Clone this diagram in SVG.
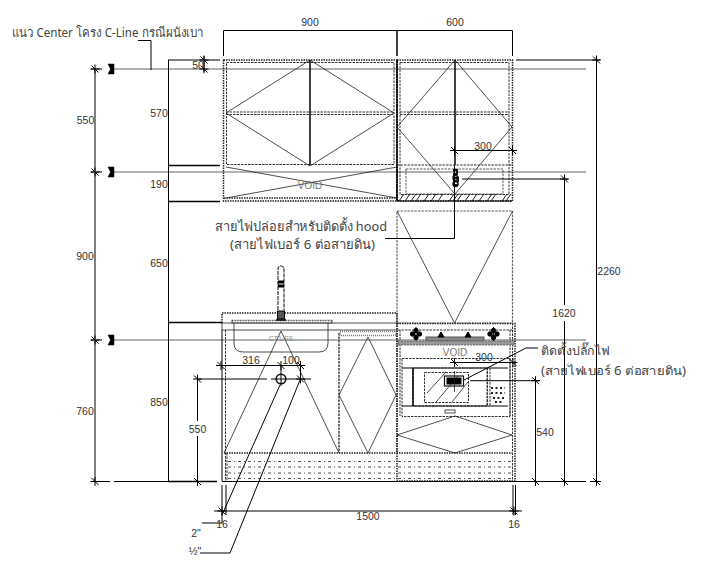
<svg xmlns="http://www.w3.org/2000/svg" width="713" height="564" viewBox="0 0 713 564">
<style>
text{font-family:"Liberation Sans",Arial,sans-serif;font-size:10.5px;fill:#333;text-anchor:middle}
.th{font-family:"Noto Sans","Liberation Sans",sans-serif;font-size:13px;text-anchor:start;fill:#444}
.void{fill:#777;font-size:10px}
line,path,rect,circle{fill:none;stroke:#111;stroke-width:1}
.dim{stroke:#000;stroke-width:1}
.thick{stroke:#000;stroke-width:1.500}
.cl{stroke:#666;stroke-width:1.100}
.d{stroke:#333;stroke-dasharray:2.500 1;stroke-width:1}
.d2{stroke:#222;stroke-dasharray:1.500 1;stroke-width:1.500}
.dot{stroke:#555;stroke-dasharray:3 3 1 3;stroke-width:1}
.thin{stroke:#222;stroke-width:.8}
.k{fill:#000;stroke:#000}
.hat{stroke:#222;stroke-width:1}
</style>
<defs>
<g id="tick"><line class="dim" x1="-3.500" y1="-3.500" x2="3.500" y2="3.500"/><line class="dim" x1="0" y1="-4.500" x2="0" y2="4.500"/><line class="dim" x1="-4.500" y1="0" x2="4.500" y2="0"/></g>
<path id="brk" d="M0 0h6v10h-6l2.500-5z" style="fill:#000;stroke:#000;stroke-width:.5"/>
<g id="burner"><circle class="k" cx="0" cy="-3.500" r="2.200"/><circle class="k" cx="-3.500" cy="0" r="2.200"/><circle class="k" cx="3.500" cy="0" r="2.200"/><circle class="k" cx="0" cy="3.500" r="2.200"/><line class="dim" x1="0" y1="-7" x2="0" y2="7"/></g>
</defs>

<g id="center-lines">
<line class="cl" x1="112" y1="69" x2="586" y2="69"/>
<line class="cl" x1="112" y1="172" x2="586" y2="172"/>
<line class="cl" x1="112" y1="340" x2="586" y2="340"/>
<use href="#brk" x="108" y="64"/><use href="#brk" x="108" y="167"/><use href="#brk" x="108" y="335"/>
</g>

<g id="upper-cabinet-900">
<rect class="d2" x="223.500" y="60" width="173.500" height="141"/>
<rect class="d" x="226.500" y="62.500" width="167.500" height="102"/>
<line class="thick" x1="310" y1="60" x2="310" y2="165"/>
<line class="d" x1="226" y1="112" x2="394" y2="112"/><line class="d" x1="226" y1="114.500" x2="394" y2="114.500"/>
<path class="thin" d="M226 113L310 60L394 113L310 166Z"/>
<path class="thin" d="M226 167L397 198M226 198L397 167"/>
<line class="d2" x1="224" y1="198" x2="397" y2="198"/>
<text class="void" x="310" y="189">VOID</text>
</g>

<g id="upper-cabinet-600">
<rect class="d2" x="397" y="60" width="115.500" height="141"/>
<line class="thick" x1="397" y1="60" x2="397" y2="201"/>
<rect class="d" x="400" y="62.500" width="109" height="132"/>
<line class="thick" x1="455" y1="60" x2="455" y2="165"/>
<line class="d" x1="400" y1="112" x2="509" y2="112"/><line class="d" x1="400" y1="114.500" x2="509" y2="114.500"/>
<path class="thin" d="M397 127L455 60L512 127L455 194Z"/>
<line class="d" x1="397" y1="165" x2="512" y2="165"/>
<rect class="d" x="406" y="169" width="97" height="25" style="stroke-width:.8"/>
<path class="hat" d="M399 201l5-7M405 201l5-7M411 201l5-7M416 201l5-7M424 201l5-7M431 201l5-7M438 201l5-7M449 201l5-7M453 201l5-7M457 201l5-7M465 201l5-7M472 201l5-7M479 201l5-7M487 201l5-7M491 201l5-7M502 201l5-7M506 201l5-7"/>
<line class="dim" x1="397" y1="201" x2="512" y2="201"/>
<path d="M454 172v-2h3v4h-3v4h4v3h-4v4h4" style="stroke-width:2"/>
<circle cx="455.500" cy="178" r="2.500" style="stroke-width:1.500"/><circle cx="455.500" cy="184" r="2.500" style="stroke-width:1.500"/>
</g>

<g id="hood">
<rect class="d" x="397" y="211" width="115.500" height="112" style="stroke:#666;stroke-width:1.200"/>
<path class="thin" d="M397 211L454.500 323L512.500 211"/>
</g>

<g id="base-cabinet">
<path class="d2" d="M222 323V313H397V323"/>
<line class="thin" x1="222" y1="323" x2="397" y2="323"/>
<line class="thin" x1="222" y1="323" x2="222" y2="330"/>
<line class="thin" x1="222" y1="330" x2="397" y2="330"/>
<line class="dim" x1="222" y1="330" x2="222" y2="481"/>
<line class="d" x1="225.500" y1="330" x2="225.500" y2="481"/>
<line class="d" x1="339" y1="333" x2="339" y2="453" style="stroke-width:1.400"/>
<rect x="340" y="331.500" width="56" height="4" style="stroke-dasharray:1 1;stroke-width:1.500;stroke:#777"/>
<path class="thin" d="M224 453L281 331L339 453"/>
<path class="thin" d="M339 395L368 337L396 395L368 453Z"/>
<line class="d2" x1="224" y1="453" x2="512" y2="453"/>
<path class="dot" d="M228 461.500H512M228 467H512M228 473H512M228 478.500H512"/>
<line class="d" x1="227" y1="453" x2="227" y2="481"/>
</g>

<g id="sink">
<rect x="232" y="320.500" width="100" height="2.500" style="stroke:#555;stroke-width:1.500;stroke-dasharray:1 .6"/>
<path class="thin" d="M234 323v20q0 9 9 9h76q9 0 9-9v-20"/>
<text x="281" y="341" style="fill:#888;font-size:7px">CT1/SS</text>
</g>

<g id="faucet">
<path d="M278 310V269q0-3 3-3t3 3V310" style="stroke:#222;stroke-dasharray:4 1;stroke-width:1.100"/>
<rect x="278.500" y="281" width="5" height="2" class="k"/><rect x="278.500" y="285" width="5" height="2" class="k"/>
<rect x="277.500" y="311" width="7" height="8" style="fill:#555;stroke:#000"/>
<line class="thick" x1="276" y1="320" x2="286" y2="320"/>
</g>

<g id="oven-column">
<rect class="d2" x="397" y="323.500" width="118" height="157.500"/>
<line class="d2" x1="397" y1="323" x2="397" y2="453"/>
<line class="d" x1="512.500" y1="323" x2="512.500" y2="481"/>
<line class="d" x1="400" y1="330" x2="400" y2="416"/>
<line class="d" x1="510" y1="330" x2="510" y2="416"/>
<line class="d" x1="398" y1="330" x2="514" y2="330"/>
<rect x="426" y="337" width="58" height="4" style="fill:#888;stroke:#555"/>
<use href="#burner" x="416" y="334"/><use href="#burner" x="493.500" y="334"/>
<path class="k" d="M438 337l3-5 3 5zM465 337l3-5 3 5z"/>
<rect x="398" y="341" width="116" height="4" style="fill:#999;stroke:#666;stroke-dasharray:2 1"/>
<rect class="d" x="402" y="358.500" width="108" height="58"/>
<line class="dim" x1="402" y1="368" x2="508" y2="368"/>
<rect class="d" x="413" y="368" width="74" height="38"/>
<line class="thick" x1="413" y1="368" x2="413" y2="406"/>
<line class="dim" x1="402" y1="406" x2="508" y2="406"/>
<rect class="d" x="424.500" y="372.500" width="44" height="30"/>
<path class="thin" d="M427 393l19-21M436 402l22-26M452 402l16-20"/>
<line class="d" x1="490" y1="368" x2="490" y2="406"/>
<line class="d" x1="487.500" y1="368" x2="487.500" y2="406"/>
<path d="M491 388h14M491 393h14M493 398h12M495 402h8" style="stroke:#222;stroke-width:2;stroke-dasharray:2 2.500"/>
<rect class="thin" x="445" y="410" width="10" height="3"/>
<path class="thin" d="M397 435L455 416L512 435L455 453Z"/>
</g>

<g id="plug">
<rect x="444.500" y="376" width="19" height="10" style="stroke-width:1.200"/>
<rect x="447" y="378" width="14" height="6" class="k"/>
<line x1="454.500" y1="371" x2="454.500" y2="392" class="thin"/>
</g>

<g id="connectors">
<line class="dim" x1="223.500" y1="30.500" x2="512.500" y2="30.500"/>
<line class="dim" x1="223.500" y1="30.500" x2="223.500" y2="56"/>
<line class="thick" x1="397" y1="30" x2="397" y2="56"/>
<line class="dim" x1="512.500" y1="30.500" x2="512.500" y2="56"/>
<path class="dim" d="M138 40.500H151V70"/>
<line class="dim" x1="95" y1="69" x2="95" y2="481.500"/>
<line class="dim" x1="168.500" y1="60" x2="168.500" y2="481.500"/>
<line class="dim" x1="168" y1="60" x2="220" y2="60"/>
<line class="dim" x1="204" y1="56" x2="204" y2="72"/>
<line class="thick" x1="168" y1="165.500" x2="220" y2="165.500"/>
<line class="thick" x1="168" y1="201.500" x2="220" y2="201.500"/>
<line class="thick" x1="168" y1="322.500" x2="222" y2="322.500"/>
<line class="dim" x1="91" y1="69" x2="102" y2="69"/>
<line class="dim" x1="91" y1="172" x2="102" y2="172"/>
<line class="dim" x1="91" y1="340" x2="102" y2="340"/>
<line class="dim" x1="91" y1="481.500" x2="110" y2="481.500"/>
<line class="dim" x1="114" y1="481.500" x2="168" y2="481.500"/>
<line class="thick" x1="168" y1="481.500" x2="217" y2="481.500"/>
<line class="dim" x1="222" y1="481.500" x2="586" y2="481.500"/>
<line class="dim" x1="590" y1="481.500" x2="600" y2="481.500"/>
<use href="#tick" x="95" y="69"/><use href="#tick" x="95" y="172"/><use href="#tick" x="95" y="340"/><use href="#tick" x="95" y="481.500"/>
<use href="#tick" x="204" y="60"/><use href="#tick" x="204" y="69"/>
<line class="dim" x1="516" y1="60" x2="600" y2="60"/>
<line class="dim" x1="596.500" y1="60" x2="596.500" y2="481.500"/>
<use href="#tick" x="596.500" y="60"/><use href="#tick" x="596.500" y="481.500"/>
<line class="dim" x1="462" y1="179" x2="568" y2="179"/>
<line class="dim" x1="564.500" y1="179" x2="564.500" y2="305"/>
<line class="dim" x1="564.500" y1="321" x2="564.500" y2="481.500"/>
<use href="#tick" x="564.500" y="179"/><use href="#tick" x="564.500" y="481.500"/>
<line class="dim" x1="470" y1="380.700" x2="540" y2="380.700"/>
<line class="dim" x1="535.500" y1="380.700" x2="535.500" y2="481.500"/>
<use href="#tick" x="535.500" y="380.700"/><use href="#tick" x="535.500" y="481.500"/>
<line class="dim" x1="454" y1="150.500" x2="517" y2="150.500"/>
<use href="#tick" x="454.500" y="150.500"/><use href="#tick" x="512.500" y="150.500"/>
<line class="dim" x1="454" y1="362.500" x2="516" y2="362.500"/>
<use href="#tick" x="454.500" y="362.500"/><use href="#tick" x="513" y="362.500"/>
<path class="dim" d="M454.500 165V238.500H385"/>
<path class="dim" d="M464 380L526 348H538"/>
<line class="dim" x1="216" y1="365.500" x2="305" y2="365.500"/>
<use href="#tick" x="221" y="365.500"/><use href="#tick" x="281" y="365.500"/><use href="#tick" x="300.500" y="365.500"/>
<line class="dim" x1="197" y1="379" x2="267" y2="379"/>
<line class="dim" x1="271" y1="379" x2="311" y2="379"/>
<line class="dim" x1="197.500" y1="379" x2="197.500" y2="421"/>
<line class="dim" x1="197.500" y1="436" x2="197.500" y2="481.500"/>
<use href="#tick" x="197.500" y="379"/><use href="#tick" x="197.500" y="481.500"/>
<use href="#tick" x="300.500" y="379"/>
<circle cx="281" cy="379" r="4.800" style="stroke-width:1.600"/>
<line class="dim" x1="281" y1="365" x2="281" y2="386"/>
<line class="dim" x1="300.500" y1="365" x2="300.500" y2="381"/>
<path class="dim" d="M280 385L222 515V523H202"/>
<path class="dim" d="M300 380L230 553H200"/>
<line class="dim" x1="214" y1="511" x2="522" y2="511"/>
<use href="#tick" x="222" y="511"/><use href="#tick" x="514" y="511"/>
<path class="dim" d="M222 485V515M226 485V515M513 485V515M515.500 485V515"/>
</g>

<g id="labels">
<text class="th" x="12" y="37" textLength="191" lengthAdjust="spacingAndGlyphs">แนว Center โครง C-Line กรณีผนังเบา</text>
<text x="310" y="26">900</text>
<text x="455" y="26">600</text>
<text x="198" y="69">50</text>
<text x="159" y="117">570</text>
<text x="85.500" y="124">550</text>
<text x="159" y="188">190</text>
<text x="85" y="260">900</text>
<text x="159" y="267">650</text>
<text x="159" y="406">850</text>
<text x="85" y="415">760</text>
<text x="197.500" y="433">550</text>
<text x="251" y="364">316</text>
<text x="291" y="364">100</text>
<text x="368" y="520">1500</text>
<text x="222" y="528">16</text>
<text x="514" y="528">16</text>
<text x="196" y="537">2"</text>
<text x="195" y="555">½"</text>
<text x="609" y="275">2260</text>
<text x="564" y="317">1620</text>
<text x="483" y="150">300</text>
<text x="484" y="361">300</text>
<text x="545" y="436">540</text>
<text class="void" x="455" y="356">VOID</text>
<text class="th" x="215" y="231" textLength="172" lengthAdjust="spacingAndGlyphs">สายไฟปล่อยสำหรับติดตั้ง hood</text>
<text class="th" x="230" y="249" textLength="145" lengthAdjust="spacingAndGlyphs">(สายไฟเบอร์ 6 ต่อสายดิน)</text>
<text class="th" x="541" y="355" textLength="68" lengthAdjust="spacingAndGlyphs" style="font-size:12px">ติดตั้งปลั๊กไฟ</text>
<text class="th" x="541" y="375" textLength="145" lengthAdjust="spacingAndGlyphs" style="font-size:12px">(สายไฟเบอร์ 6 ต่อสายดิน)</text>
</g>
</svg>
